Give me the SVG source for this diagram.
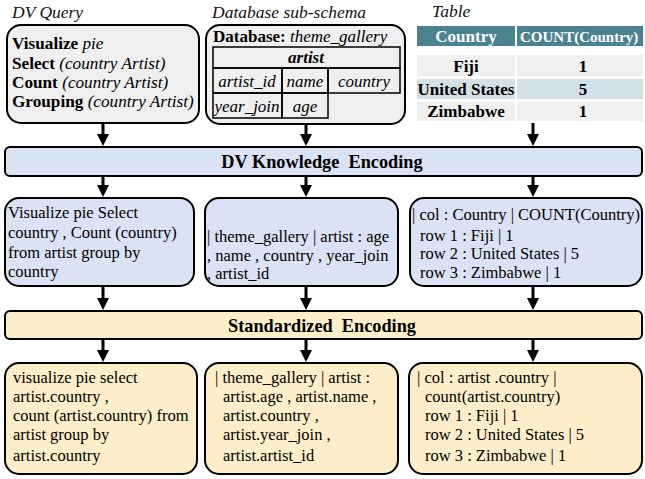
<svg xmlns="http://www.w3.org/2000/svg" width="645" height="479" viewBox="0 0 645 479">
<defs>
<style>
.t{font-family:"Liberation Serif","Times New Roman",serif;fill:#000}
.title{font-family:"Liberation Serif","Times New Roman",serif;font-style:italic;font-size:17.5px;fill:#111}
.b{font-weight:bold}
.i{font-style:italic}
.box{stroke:#000;stroke-width:2}
.gray{fill:#efefef}
.blue{fill:#dae3f3}
.yel{fill:#fdeec9}
.cell{fill:none;stroke:#000;stroke-width:1.5}
.conn{stroke:#000;stroke-width:3;fill:none;marker-end:url(#ah)}
.pre{white-space:pre}
.body{font-size:16.5px}
.tb{font-size:17px;font-weight:bold}
.w{fill:#fff}
</style>
<marker id="ah" viewBox="0 0 10 10" refX="4.2" refY="5" markerWidth="4" markerHeight="4" orient="auto" markerUnits="strokeWidth">
<path d="M0,0 L10,5 L0,10 z" fill="#000"/>
</marker>
</defs>

<g id="dv-query">
<text class="title" x="12" y="18">DV Query</text>
<rect class="box gray" x="7" y="25" width="192" height="98" rx="14"/>
<text class="t" font-size="17.2" x="12" y="49"><tspan class="b">Visualize</tspan><tspan class="i"> pie</tspan></text>
<text class="t" font-size="17.2" x="12" y="69"><tspan class="b">Select</tspan><tspan class="i"> (country Artist)</tspan></text>
<text class="t" font-size="17.2" x="12" y="88"><tspan class="b">Count</tspan><tspan class="i"> (country Artist)</tspan></text>
<text class="t" font-size="17.2" x="12" y="107"><tspan class="b">Grouping</tspan><tspan class="i"> (country Artist)</tspan></text>
</g>

<g id="db-schema">
<text class="title" x="212" y="18">Database sub-schema</text>
<rect class="box gray" x="206" y="25" width="199" height="99" rx="14"/>
<text class="t" font-size="17" x="213" y="42"><tspan class="b">Database:</tspan><tspan class="i"> theme_gallery</tspan></text>
<rect class="cell" x="213" y="47" width="187" height="21"/>
<rect class="cell" x="213" y="68" width="69" height="25"/>
<rect class="cell" x="282" y="68" width="46" height="25"/>
<rect class="cell" x="328" y="68" width="72" height="25"/>
<rect class="cell" x="213" y="93" width="69" height="25"/>
<rect class="cell" x="282" y="93" width="46" height="25"/>
<text class="t b i" font-size="17" x="306" y="63" text-anchor="middle">artist</text>
<text class="t i" font-size="17" x="247" y="87" text-anchor="middle">artist_id</text>
<text class="t i" font-size="17" x="305" y="87" text-anchor="middle">name</text>
<text class="t i" font-size="17" x="364" y="87" text-anchor="middle">country</text>
<text class="t i" font-size="17" x="247" y="112" text-anchor="middle">year_join</text>
<text class="t i" font-size="17" x="305" y="112" text-anchor="middle">age</text>
</g>

<g id="table">
<text class="title" x="432" y="17">Table</text>
<rect x="417" y="26" width="98" height="20" fill="#4b8290"/>
<rect x="517" y="26" width="126" height="20" fill="#4b8290"/>
<text class="t tb w" x="466" y="42" text-anchor="middle">Country</text>
<text class="t b w" font-size="15" x="520" y="41.5">COUNT(Country)</text>
<rect x="417" y="55" width="98" height="21" fill="#efefef"/>
<rect x="517" y="55" width="126" height="21" fill="#efefef"/>
<rect x="417" y="79" width="98" height="20" fill="#d2e1e6"/>
<rect x="517" y="79" width="126" height="20" fill="#d2e1e6"/>
<rect x="417" y="102" width="98" height="19" fill="#efefef"/>
<rect x="517" y="102" width="126" height="19" fill="#efefef"/>
<text class="t tb" x="466" y="72" text-anchor="middle">Fiji</text>
<text class="t tb" x="583" y="72" text-anchor="middle">1</text>
<text class="t tb" x="466" y="95" text-anchor="middle">United States</text>
<text class="t tb" x="583" y="95" text-anchor="middle">5</text>
<text class="t tb" x="466" y="117" text-anchor="middle">Zimbabwe</text>
<text class="t tb" x="583" y="117" text-anchor="middle">1</text>
</g>

<g id="band-dv">
<rect class="box blue" x="5" y="147" width="637" height="29" rx="5"/>
<text class="t b pre" font-size="18.3" x="322" y="168" text-anchor="middle">DV Knowledge  Encoding</text>
</g>

<g id="enc-query">
<rect class="box blue" x="5" y="198" width="189" height="88" rx="14"/>
<text class="t body" x="8" y="218">Visualize pie Select</text>
<text class="t body" x="8" y="238">country , Count (country)</text>
<text class="t body" x="8" y="258">from artist group by</text>
<text class="t body" x="8" y="277">country</text>
</g>
<g id="enc-schema">
<rect class="box blue" x="205" y="198" width="193" height="88" rx="14"/>
<text class="t body" x="207" y="242">| theme_gallery | artist : age</text>
<text class="t body" x="207" y="261">, name , country , year_join</text>
<text class="t body" x="207" y="279">, artist_id</text>
</g>
<g id="enc-table">
<rect class="box blue" x="410" y="198" width="232" height="88" rx="14"/>
<text class="t body" x="412" y="220">| col : Country | COUNT(Country)</text>
<text class="t body" x="420" y="241">row 1 : Fiji | 1</text>
<text class="t body" x="420" y="259">row 2 : United States | 5</text>
<text class="t body" x="420" y="278">row 3 : Zimbabwe | 1</text>
</g>

<g id="band-std">
<rect class="box yel" x="5" y="311" width="637" height="28" rx="5"/>
<text class="t b pre" font-size="18.3" x="322" y="332" text-anchor="middle">Standardized  Encoding</text>
</g>

<g id="std-query">
<rect class="box yel" x="5" y="363" width="192" height="111" rx="14"/>
<text class="t body" x="13" y="383">visualize pie select</text>
<text class="t body" x="13" y="402">artist.country ,</text>
<text class="t body" x="13" y="421">count (artist.country) from</text>
<text class="t body" x="13" y="440">artist group by</text>
<text class="t body" x="13" y="461">artist.country</text>
</g>
<g id="std-schema">
<rect class="box yel" x="205" y="363" width="193" height="111" rx="14"/>
<text class="t body" x="215" y="383">| theme_gallery | artist :</text>
<text class="t body" x="223" y="402">artist.age , artist.name ,</text>
<text class="t body" x="223" y="421">artist.country ,</text>
<text class="t body" x="223" y="440">artist.year_join ,</text>
<text class="t body" x="223" y="461">artist.artist_id</text>
</g>
<g id="std-table">
<rect class="box yel" x="409" y="363" width="233" height="111" rx="14"/>
<text class="t body" x="417" y="383">| col : artist .country |</text>
<text class="t body" x="425" y="402">count(artist.country)</text>
<text class="t body" x="425" y="421">row 1 : Fiji | 1</text>
<text class="t body" x="425" y="440">row 2 : United States | 5</text>
<text class="t body" x="425" y="461">row 3 : Zimbabwe | 1</text>
</g>

<g id="connectors">
<path class="conn" d="M103,124 V139"/>
<path class="conn" d="M306,125 V139"/>
<path class="conn" d="M533,123 V139"/>
<path class="conn" d="M103,177 V190"/>
<path class="conn" d="M306,177 V190"/>
<path class="conn" d="M533,177 V190"/>
<path class="conn" d="M103,287 V303"/>
<path class="conn" d="M306,287 V303"/>
<path class="conn" d="M533,287 V303"/>
<path class="conn" d="M103,340 V355"/>
<path class="conn" d="M306,340 V355"/>
<path class="conn" d="M533,340 V355"/>
</g>
</svg>
